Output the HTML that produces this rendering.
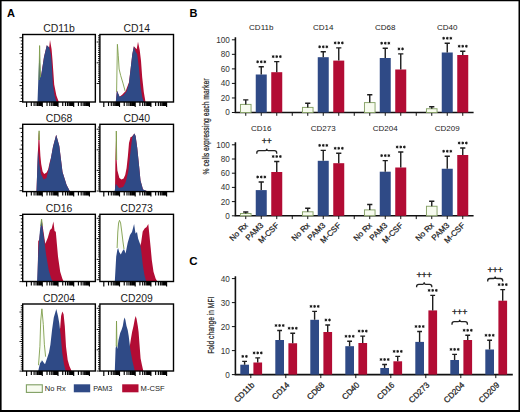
<!DOCTYPE html>
<html><head><meta charset="utf-8"><style>
html,body{margin:0;padding:0;background:#fff;overflow:hidden;width:520px;height:412px;}
svg{display:block;}
text{font-family:"Liberation Sans",sans-serif;}
</style></head><body>
<svg width="520" height="412" viewBox="0 0 520 412">
<rect x="0" y="0" width="520" height="412" fill="#fff"/>
<text x="7.0" y="16.9" font-size="11" text-anchor="start" fill="#000" font-weight="bold" >A</text>
<text x="189.5" y="16.9" font-size="11" text-anchor="start" fill="#000" font-weight="bold" >B</text>
<text x="189.2" y="265.1" font-size="11.5" text-anchor="start" fill="#000" font-weight="bold" >C</text>
<text x="59.025" y="32.1" font-size="10" text-anchor="middle" fill="#1a1a1a" font-weight="normal" textLength="31.8" lengthAdjust="spacingAndGlyphs" >CD11b</text>
<polygon points="38.00,102.00 40.70,79.00 42.00,70.00 44.00,57.00 46.80,45.20 49.20,47.60 50.00,40.00 51.60,49.20 52.50,60.00 53.20,70.00 54.20,84.40 56.40,95.60 58.80,102.00" fill="#b20c34"/>
<polygon points="37.50,102.00 38.30,80.00 39.00,62.00 39.60,54.00 40.10,64.00 40.70,78.00 42.00,70.00 44.00,57.00 46.80,45.20 49.20,47.60 50.80,54.00 51.60,62.00 52.10,70.00 52.90,84.40 54.60,95.60 56.50,102.00" fill="#2f4a86"/>
<polyline points="39.00,80.00 39.60,45.60 40.50,77.00" fill="none" stroke="#7f9e4c" stroke-width="0.9"/>
<rect x="22.7" y="34.5" width="72.65" height="67.50" fill="none" stroke="#000" stroke-width="1.4"/>
<path d="M19.50,37.70H22.70M20.80,40.88H22.70M20.80,44.06H22.70M20.80,47.24H22.70M20.80,50.42H22.70M19.50,53.60H22.70M20.80,56.78H22.70M20.80,59.96H22.70M20.80,63.14H22.70M20.80,66.32H22.70M19.50,69.70H22.70M20.80,72.88H22.70M20.80,76.06H22.70M20.80,79.24H22.70M20.80,82.42H22.70M19.50,85.60H22.70M20.80,88.78H22.70M20.80,91.96H22.70M20.80,95.14H22.70M20.80,98.32H22.70M19.50,101.50H22.70" stroke="#000" stroke-width="0.9" fill="none"/>
<path d="M26.60,102.00V107.00M31.33,102.00V106.00M34.09,102.00V106.00M36.05,102.00V106.00M37.57,102.00V106.00M38.82,102.00V106.00M39.87,102.00V106.00M40.78,102.00V106.00M41.58,102.00V106.00M42.30,102.00V107.00M47.03,102.00V106.00M49.79,102.00V106.00M51.75,102.00V106.00M53.27,102.00V106.00M54.52,102.00V106.00M55.57,102.00V106.00M56.48,102.00V106.00M57.28,102.00V106.00M58.00,102.00V107.00M62.73,102.00V106.00M65.49,102.00V106.00M67.45,102.00V106.00M68.97,102.00V106.00M70.22,102.00V106.00M71.27,102.00V106.00M72.18,102.00V106.00M72.98,102.00V106.00M73.70,102.00V107.00M78.43,102.00V106.00M81.19,102.00V106.00M83.15,102.00V106.00M84.67,102.00V106.00M85.92,102.00V106.00M86.97,102.00V106.00M87.88,102.00V106.00M88.68,102.00V106.00M89.40,102.00V107.00" stroke="#000" stroke-width="1.15" fill="none"/>
<text x="136.7" y="32.1" font-size="10" text-anchor="middle" fill="#1a1a1a" font-weight="normal" textLength="26.6" lengthAdjust="spacingAndGlyphs" >CD14</text>
<polygon points="115.80,102.00 116.90,90.50 119.60,96.70 122.40,94.60 125.70,91.00 129.00,82.20 130.60,69.00 132.30,54.20 133.90,46.20 136.70,49.20 138.00,41.80 139.70,50.00 141.00,60.80 142.20,77.30 143.80,92.10 145.50,102.00" fill="#b20c34"/>
<polygon points="115.80,102.00 116.90,90.50 119.60,96.70 123.20,95.60 126.50,91.50 129.00,83.20 130.60,69.00 132.30,54.20 133.90,46.20 135.60,51.70 137.20,54.20 138.90,67.40 140.50,85.50 142.20,97.00 143.80,102.00" fill="#2f4a86"/>
<polyline points="116.60,92.00 117.40,44.30 118.30,55.80 119.10,69.00 120.70,75.60 123.20,83.90 125.20,91.30" fill="none" stroke="#7f9e4c" stroke-width="0.9"/>
<rect x="99.9" y="34.5" width="73.60" height="67.50" fill="none" stroke="#000" stroke-width="1.4"/>
<path d="M96.70,42.00H99.90M98.00,44.08H99.90M98.00,46.16H99.90M98.00,48.24H99.90M98.00,50.32H99.90M98.00,52.40H99.90M98.00,54.48H99.90M98.00,56.56H99.90M98.00,58.64H99.90M98.00,60.72H99.90M96.70,62.80H99.90M98.00,64.88H99.90M98.00,66.96H99.90M98.00,69.04H99.90M98.00,71.12H99.90M98.00,73.20H99.90M98.00,75.28H99.90M98.00,77.36H99.90M98.00,79.44H99.90M98.00,81.52H99.90M96.70,83.50H99.90M98.00,39.92H99.90M98.00,37.84H99.90M98.00,35.76H99.90" stroke="#000" stroke-width="0.9" fill="none"/>
<path d="M103.80,102.00V107.00M108.53,102.00V106.00M111.29,102.00V106.00M113.25,102.00V106.00M114.77,102.00V106.00M116.02,102.00V106.00M117.07,102.00V106.00M117.98,102.00V106.00M118.78,102.00V106.00M119.50,102.00V107.00M124.23,102.00V106.00M126.99,102.00V106.00M128.95,102.00V106.00M130.47,102.00V106.00M131.72,102.00V106.00M132.77,102.00V106.00M133.68,102.00V106.00M134.48,102.00V106.00M135.20,102.00V107.00M139.93,102.00V106.00M142.69,102.00V106.00M144.65,102.00V106.00M146.17,102.00V106.00M147.42,102.00V106.00M148.47,102.00V106.00M149.38,102.00V106.00M150.18,102.00V106.00M150.90,102.00V107.00M155.63,102.00V106.00M158.39,102.00V106.00M160.35,102.00V106.00M161.87,102.00V106.00M163.12,102.00V106.00M164.17,102.00V106.00M165.08,102.00V106.00M165.88,102.00V106.00M166.60,102.00V107.00" stroke="#000" stroke-width="1.15" fill="none"/>
<text x="59.025" y="121.89999999999999" font-size="10" text-anchor="middle" fill="#1a1a1a" font-weight="normal" textLength="26.6" lengthAdjust="spacingAndGlyphs" >CD68</text>
<polygon points="36.50,191.60 37.60,160.00 38.60,135.00 39.10,130.80 39.60,142.00 40.40,156.00 41.20,164.00 42.60,171.50 44.20,174.00 46.60,172.50 48.20,169.30 49.80,162.00 51.00,158.00 53.00,146.80 56.20,134.80 59.30,146.00 62.50,172.00 66.60,185.00 70.00,191.60" fill="#b20c34"/>
<polygon points="36.50,191.60 37.50,162.00 38.00,150.00 38.60,156.00 39.40,164.00 40.90,174.00 43.70,179.50 46.50,178.00 49.00,167.70 50.60,159.70 53.00,146.80 56.20,134.80 59.30,146.00 62.50,172.00 66.60,185.00 70.00,191.60" fill="#2f4a86"/>
<polyline points="38.60,140.00 39.10,130.80 39.50,140.00" fill="none" stroke="#7f9e4c" stroke-width="0.9"/>
<rect x="22.7" y="124.3" width="72.65" height="67.30" fill="none" stroke="#000" stroke-width="1.4"/>
<path d="M19.50,128.30H22.70M20.80,132.48H22.70M20.80,136.66H22.70M20.80,140.84H22.70M20.80,145.02H22.70M19.50,149.20H22.70M20.80,153.38H22.70M20.80,157.56H22.70M20.80,161.74H22.70M20.80,165.92H22.70M19.50,169.80H22.70M20.80,173.98H22.70M20.80,178.16H22.70M20.80,182.34H22.70M20.80,186.52H22.70M19.50,190.70H22.70" stroke="#000" stroke-width="0.9" fill="none"/>
<path d="M26.60,191.60V196.60M31.33,191.60V195.60M34.09,191.60V195.60M36.05,191.60V195.60M37.57,191.60V195.60M38.82,191.60V195.60M39.87,191.60V195.60M40.78,191.60V195.60M41.58,191.60V195.60M42.30,191.60V196.60M47.03,191.60V195.60M49.79,191.60V195.60M51.75,191.60V195.60M53.27,191.60V195.60M54.52,191.60V195.60M55.57,191.60V195.60M56.48,191.60V195.60M57.28,191.60V195.60M58.00,191.60V196.60M62.73,191.60V195.60M65.49,191.60V195.60M67.45,191.60V195.60M68.97,191.60V195.60M70.22,191.60V195.60M71.27,191.60V195.60M72.18,191.60V195.60M72.98,191.60V195.60M73.70,191.60V196.60M78.43,191.60V195.60M81.19,191.60V195.60M83.15,191.60V195.60M84.67,191.60V195.60M85.92,191.60V195.60M86.97,191.60V195.60M87.88,191.60V195.60M88.68,191.60V195.60M89.40,191.60V196.60" stroke="#000" stroke-width="1.15" fill="none"/>
<text x="136.7" y="121.89999999999999" font-size="10" text-anchor="middle" fill="#1a1a1a" font-weight="normal" textLength="26.6" lengthAdjust="spacingAndGlyphs" >CD40</text>
<polygon points="115.00,191.60 115.40,159.00 116.30,131.00 116.60,159.00 117.40,170.60 119.40,178.00 121.50,179.50 123.60,178.50 125.20,175.00 126.60,168.00 127.90,156.00 129.00,143.00 130.60,137.00 131.80,136.70 134.40,133.40 135.60,135.90 137.20,147.50 138.90,164.00 140.50,180.50 143.00,189.50 148.00,191.60" fill="#b20c34"/>
<polygon points="114.60,191.60 115.80,183.80 119.10,187.90 123.20,187.00 125.70,182.10 128.20,172.20 130.60,150.80 132.30,136.70 134.40,133.40 135.60,135.90 137.20,147.50 138.90,164.00 140.50,180.50 143.00,189.50 148.00,191.60" fill="#2f4a86"/>
<polyline points="116.10,160.00 116.30,131.00 116.70,160.00" fill="none" stroke="#7f9e4c" stroke-width="0.9"/>
<rect x="99.9" y="124.3" width="73.60" height="67.30" fill="none" stroke="#000" stroke-width="1.4"/>
<path d="M96.70,129.20H99.90M98.00,131.26H99.90M98.00,133.32H99.90M98.00,135.38H99.90M98.00,137.44H99.90M98.00,139.50H99.90M98.00,141.56H99.90M98.00,143.62H99.90M98.00,145.68H99.90M98.00,147.74H99.90M96.70,149.80H99.90M98.00,151.86H99.90M98.00,153.92H99.90M98.00,155.98H99.90M98.00,158.04H99.90M98.00,160.10H99.90M98.00,162.16H99.90M98.00,164.22H99.90M98.00,166.28H99.90M98.00,168.34H99.90M96.70,170.40H99.90M98.00,172.46H99.90M98.00,174.52H99.90M98.00,176.58H99.90M98.00,178.64H99.90M98.00,180.70H99.90M98.00,182.76H99.90M98.00,184.82H99.90M98.00,186.88H99.90M98.00,188.94H99.90M96.70,191.00H99.90M98.00,127.14H99.90" stroke="#000" stroke-width="0.9" fill="none"/>
<path d="M103.80,191.60V196.60M108.53,191.60V195.60M111.29,191.60V195.60M113.25,191.60V195.60M114.77,191.60V195.60M116.02,191.60V195.60M117.07,191.60V195.60M117.98,191.60V195.60M118.78,191.60V195.60M119.50,191.60V196.60M124.23,191.60V195.60M126.99,191.60V195.60M128.95,191.60V195.60M130.47,191.60V195.60M131.72,191.60V195.60M132.77,191.60V195.60M133.68,191.60V195.60M134.48,191.60V195.60M135.20,191.60V196.60M139.93,191.60V195.60M142.69,191.60V195.60M144.65,191.60V195.60M146.17,191.60V195.60M147.42,191.60V195.60M148.47,191.60V195.60M149.38,191.60V195.60M150.18,191.60V195.60M150.90,191.60V196.60M155.63,191.60V195.60M158.39,191.60V195.60M160.35,191.60V195.60M161.87,191.60V195.60M163.12,191.60V195.60M164.17,191.60V195.60M165.08,191.60V195.60M165.88,191.60V195.60M166.60,191.60V196.60" stroke="#000" stroke-width="1.15" fill="none"/>
<text x="59.025" y="211.9" font-size="10" text-anchor="middle" fill="#1a1a1a" font-weight="normal" textLength="26.6" lengthAdjust="spacingAndGlyphs" >CD16</text>
<polygon points="37.60,281.50 38.20,241.20 39.30,239.50 41.60,219.10 45.30,243.70 47.80,237.80 50.00,230.10 51.70,228.40 53.40,221.60 54.60,231.00 55.80,231.80 56.80,242.90 58.00,256.50 60.20,271.80 62.30,278.60 63.60,281.50" fill="#b20c34"/>
<polygon points="37.10,281.50 38.50,248.00 39.90,231.00 41.60,219.10 42.70,229.30 44.40,241.20 46.10,254.80 48.70,270.10 51.20,278.60 52.90,281.50" fill="#2f4a86"/>
<polyline points="40.60,226.00 41.60,219.10 42.40,226.00" fill="none" stroke="#7f9e4c" stroke-width="0.9"/>
<rect x="22.7" y="214.3" width="72.65" height="67.20" fill="none" stroke="#000" stroke-width="1.4"/>
<path d="M19.50,215.50H22.70M20.80,218.82H22.70M20.80,222.14H22.70M20.80,225.46H22.70M20.80,228.78H22.70M19.50,232.10H22.70M20.80,235.42H22.70M20.80,238.74H22.70M20.80,242.06H22.70M20.80,245.38H22.70M19.50,248.70H22.70M20.80,252.02H22.70M20.80,255.34H22.70M20.80,258.66H22.70M20.80,261.98H22.70M19.50,265.00H22.70M20.80,268.32H22.70M20.80,271.64H22.70M20.80,274.96H22.70M20.80,278.28H22.70M19.50,281.60H22.70" stroke="#000" stroke-width="0.9" fill="none"/>
<path d="M26.60,281.50V286.50M31.33,281.50V285.50M34.09,281.50V285.50M36.05,281.50V285.50M37.57,281.50V285.50M38.82,281.50V285.50M39.87,281.50V285.50M40.78,281.50V285.50M41.58,281.50V285.50M42.30,281.50V286.50M47.03,281.50V285.50M49.79,281.50V285.50M51.75,281.50V285.50M53.27,281.50V285.50M54.52,281.50V285.50M55.57,281.50V285.50M56.48,281.50V285.50M57.28,281.50V285.50M58.00,281.50V286.50M62.73,281.50V285.50M65.49,281.50V285.50M67.45,281.50V285.50M68.97,281.50V285.50M70.22,281.50V285.50M71.27,281.50V285.50M72.18,281.50V285.50M72.98,281.50V285.50M73.70,281.50V286.50M78.43,281.50V285.50M81.19,281.50V285.50M83.15,281.50V285.50M84.67,281.50V285.50M85.92,281.50V285.50M86.97,281.50V285.50M87.88,281.50V285.50M88.68,281.50V285.50M89.40,281.50V286.50" stroke="#000" stroke-width="1.15" fill="none"/>
<text x="136.7" y="211.9" font-size="10" text-anchor="middle" fill="#1a1a1a" font-weight="normal" textLength="32.2" lengthAdjust="spacingAndGlyphs" >CD273</text>
<polygon points="128.00,281.50 141.10,242.70 142.70,231.50 144.80,228.30 146.40,227.20 148.30,224.00 149.10,232.00 150.70,248.00 151.80,260.00 153.50,271.80 155.60,278.60 157.30,281.50" fill="#b20c34"/>
<polygon points="114.80,281.50 116.20,256.50 117.30,250.00 118.10,248.00 119.20,252.00 120.80,254.40 122.50,251.00 124.00,249.00 125.60,253.40 127.70,242.70 129.90,235.20 130.60,234.10 132.00,232.00 134.10,224.00 135.50,233.60 137.00,232.00 138.10,238.40 140.00,243.70 141.30,251.20 142.80,265.00 144.50,275.20 146.20,281.50" fill="#2f4a86"/>
<polyline points="117.10,248.00 117.80,232.00 118.60,223.00 119.50,220.30 120.60,223.00 121.80,232.00 123.00,242.00 124.00,249.00" fill="#f7fbef" fill-opacity="0.6" stroke="#7f9e4c" stroke-width="0.9"/>
<rect x="99.9" y="214.3" width="73.60" height="67.20" fill="none" stroke="#000" stroke-width="1.4"/>
<path d="M96.70,218.30H99.90M98.00,220.33H99.90M98.00,222.36H99.90M98.00,224.39H99.90M98.00,226.42H99.90M98.00,228.45H99.90M98.00,230.48H99.90M98.00,232.51H99.90M98.00,234.54H99.90M98.00,236.57H99.90M96.70,238.60H99.90M98.00,240.63H99.90M98.00,242.66H99.90M98.00,244.69H99.90M98.00,246.72H99.90M98.00,248.75H99.90M98.00,250.78H99.90M98.00,252.81H99.90M98.00,254.84H99.90M98.00,256.87H99.90M96.70,259.40H99.90M98.00,261.43H99.90M98.00,263.46H99.90M98.00,265.49H99.90M98.00,267.52H99.90M98.00,269.55H99.90M98.00,271.58H99.90M98.00,273.61H99.90M98.00,275.64H99.90M98.00,277.67H99.90M96.70,279.70H99.90M98.00,216.27H99.90" stroke="#000" stroke-width="0.9" fill="none"/>
<path d="M103.80,281.50V286.50M108.53,281.50V285.50M111.29,281.50V285.50M113.25,281.50V285.50M114.77,281.50V285.50M116.02,281.50V285.50M117.07,281.50V285.50M117.98,281.50V285.50M118.78,281.50V285.50M119.50,281.50V286.50M124.23,281.50V285.50M126.99,281.50V285.50M128.95,281.50V285.50M130.47,281.50V285.50M131.72,281.50V285.50M132.77,281.50V285.50M133.68,281.50V285.50M134.48,281.50V285.50M135.20,281.50V286.50M139.93,281.50V285.50M142.69,281.50V285.50M144.65,281.50V285.50M146.17,281.50V285.50M147.42,281.50V285.50M148.47,281.50V285.50M149.38,281.50V285.50M150.18,281.50V285.50M150.90,281.50V286.50M155.63,281.50V285.50M158.39,281.50V285.50M160.35,281.50V285.50M161.87,281.50V285.50M163.12,281.50V285.50M164.17,281.50V285.50M165.08,281.50V285.50M165.88,281.50V285.50M166.60,281.50V286.50" stroke="#000" stroke-width="1.15" fill="none"/>
<text x="59.025" y="301.6" font-size="10" text-anchor="middle" fill="#1a1a1a" font-weight="normal" textLength="32.2" lengthAdjust="spacingAndGlyphs" >CD204</text>
<polygon points="52.00,371.00 60.20,327.80 61.10,315.90 62.30,311.60 63.60,314.20 64.80,326.10 66.00,346.50 67.70,360.10 69.40,366.00 71.60,371.00" fill="#b20c34"/>
<polygon points="38.20,371.00 40.20,362.60 41.90,360.10 43.60,362.60 45.00,364.30 47.00,358.40 49.00,352.40 50.40,344.80 52.10,329.50 53.80,317.60 56.30,309.10 58.00,315.90 59.20,322.70 60.60,334.60 62.30,353.30 64.00,364.30 65.70,371.00" fill="#2f4a86"/>
<polyline points="38.50,365.20 39.90,346.50 40.70,321.00 41.90,308.80 43.30,324.40 44.40,344.80 45.60,356.70" fill="#f7fbef" fill-opacity="0.6" stroke="#7f9e4c" stroke-width="0.9"/>
<rect x="22.7" y="304.0" width="72.65" height="67.00" fill="none" stroke="#000" stroke-width="1.4"/>
<path d="M19.50,312.00H22.70M20.80,314.11H22.70M20.80,316.23H22.70M20.80,318.34H22.70M20.80,320.46H22.70M20.80,322.57H22.70M20.80,324.69H22.70M19.50,326.80H22.70M20.80,328.91H22.70M20.80,331.03H22.70M20.80,333.14H22.70M20.80,335.26H22.70M20.80,337.37H22.70M20.80,339.49H22.70M19.50,341.50H22.70M20.80,343.61H22.70M20.80,345.73H22.70M20.80,347.84H22.70M20.80,349.96H22.70M20.80,352.07H22.70M20.80,354.19H22.70M19.50,356.30H22.70M20.80,358.41H22.70M20.80,360.53H22.70M20.80,362.64H22.70M20.80,364.76H22.70M20.80,366.87H22.70M20.80,368.99H22.70M19.50,371.10H22.70M20.80,309.89H22.70M20.80,307.77H22.70M20.80,305.66H22.70" stroke="#000" stroke-width="0.9" fill="none"/>
<path d="M26.60,371.00V376.00M31.33,371.00V375.00M34.09,371.00V375.00M36.05,371.00V375.00M37.57,371.00V375.00M38.82,371.00V375.00M39.87,371.00V375.00M40.78,371.00V375.00M41.58,371.00V375.00M42.30,371.00V376.00M47.03,371.00V375.00M49.79,371.00V375.00M51.75,371.00V375.00M53.27,371.00V375.00M54.52,371.00V375.00M55.57,371.00V375.00M56.48,371.00V375.00M57.28,371.00V375.00M58.00,371.00V376.00M62.73,371.00V375.00M65.49,371.00V375.00M67.45,371.00V375.00M68.97,371.00V375.00M70.22,371.00V375.00M71.27,371.00V375.00M72.18,371.00V375.00M72.98,371.00V375.00M73.70,371.00V376.00M78.43,371.00V375.00M81.19,371.00V375.00M83.15,371.00V375.00M84.67,371.00V375.00M85.92,371.00V375.00M86.97,371.00V375.00M87.88,371.00V375.00M88.68,371.00V375.00M89.40,371.00V376.00" stroke="#000" stroke-width="1.15" fill="none"/>
<text x="136.7" y="301.6" font-size="10" text-anchor="middle" fill="#1a1a1a" font-weight="normal" textLength="32.2" lengthAdjust="spacingAndGlyphs" >CD209</text>
<polygon points="126.00,371.00 130.90,339.00 132.10,332.00 133.50,326.00 134.80,319.00 135.70,316.00 136.60,319.00 137.80,326.00 138.60,332.00 139.40,343.00 140.60,358.40 142.00,365.20 143.30,371.00" fill="#b20c34"/>
<polygon points="114.80,371.00 115.60,348.20 116.50,344.80 117.30,349.00 118.50,340.00 120.20,333.00 121.50,330.00 122.80,326.00 123.80,320.00 124.60,317.50 125.40,320.00 126.50,326.00 127.70,330.00 128.70,336.00 130.40,349.90 132.60,361.80 134.80,371.00" fill="#2f4a86"/>
<polyline points="116.20,346.50 116.50,321.00 117.00,346.50" fill="none" stroke="#7f9e4c" stroke-width="0.9"/>
<rect x="99.9" y="304.0" width="73.60" height="67.00" fill="none" stroke="#000" stroke-width="1.4"/>
<path d="M96.70,308.30H99.90M98.00,310.42H99.90M98.00,312.54H99.90M98.00,314.66H99.90M98.00,316.78H99.90M98.00,318.90H99.90M98.00,321.02H99.90M98.00,323.14H99.90M98.00,325.26H99.90M98.00,327.38H99.90M96.70,329.50H99.90M98.00,331.62H99.90M98.00,333.74H99.90M98.00,335.86H99.90M98.00,337.98H99.90M98.00,340.10H99.90M98.00,342.22H99.90M98.00,344.34H99.90M98.00,346.46H99.90M98.00,348.58H99.90M96.70,349.80H99.90M98.00,351.92H99.90M98.00,354.04H99.90M98.00,356.16H99.90M98.00,358.28H99.90M98.00,360.40H99.90M98.00,362.52H99.90M98.00,364.64H99.90M98.00,366.76H99.90M98.00,368.88H99.90M96.70,371.00H99.90M98.00,306.18H99.90" stroke="#000" stroke-width="0.9" fill="none"/>
<path d="M103.80,371.00V376.00M108.53,371.00V375.00M111.29,371.00V375.00M113.25,371.00V375.00M114.77,371.00V375.00M116.02,371.00V375.00M117.07,371.00V375.00M117.98,371.00V375.00M118.78,371.00V375.00M119.50,371.00V376.00M124.23,371.00V375.00M126.99,371.00V375.00M128.95,371.00V375.00M130.47,371.00V375.00M131.72,371.00V375.00M132.77,371.00V375.00M133.68,371.00V375.00M134.48,371.00V375.00M135.20,371.00V376.00M139.93,371.00V375.00M142.69,371.00V375.00M144.65,371.00V375.00M146.17,371.00V375.00M147.42,371.00V375.00M148.47,371.00V375.00M149.38,371.00V375.00M150.18,371.00V375.00M150.90,371.00V376.00M155.63,371.00V375.00M158.39,371.00V375.00M160.35,371.00V375.00M161.87,371.00V375.00M163.12,371.00V375.00M164.17,371.00V375.00M165.08,371.00V375.00M165.88,371.00V375.00M166.60,371.00V376.00" stroke="#000" stroke-width="1.15" fill="none"/>
<rect x="26.4" y="384.8" width="15.9" height="7.6" fill="#f7fbef" stroke="#7f9f62" stroke-width="1.1"/>
<text x="44.8" y="390.9" font-size="7.4" text-anchor="start" fill="#222" font-weight="normal" textLength="20.9" lengthAdjust="spacingAndGlyphs" >No Rx</text>
<rect x="73.8" y="384.3" width="16.4" height="8" fill="#2f4a86"/>
<text x="93.2" y="390.9" font-size="7.4" text-anchor="start" fill="#222" font-weight="normal" textLength="19.1" lengthAdjust="spacingAndGlyphs" >PAM3</text>
<rect x="122.2" y="384.3" width="16.3" height="8" fill="#b20c34"/>
<text x="140.6" y="390.9" font-size="7.4" text-anchor="start" fill="#222" font-weight="normal" textLength="24" lengthAdjust="spacingAndGlyphs" >M-CSF</text>
<path d="M235.4,37.30V112.50H473.6" stroke="#111" stroke-width="1.6" fill="none"/>
<text x="229.8" y="115.4" font-size="8.2" text-anchor="end" fill="#333" font-weight="normal" >0</text>
<text x="229.8" y="100.86000000000001" font-size="8.2" text-anchor="end" fill="#333" font-weight="normal" >20</text>
<text x="229.8" y="86.32000000000001" font-size="8.2" text-anchor="end" fill="#333" font-weight="normal" >40</text>
<text x="229.8" y="71.78" font-size="8.2" text-anchor="end" fill="#333" font-weight="normal" >60</text>
<text x="229.8" y="57.24" font-size="8.2" text-anchor="end" fill="#333" font-weight="normal" >80</text>
<text x="229.8" y="42.699999999999996" font-size="8.2" text-anchor="end" fill="#333" font-weight="normal" >100</text>
<path d="M231.90,112.50H235.4M231.90,97.96H235.4M231.90,83.42H235.4M231.90,68.88H235.4M231.90,54.34H235.4M231.90,39.80H235.4M245.75,112.50V115.80M261.25,112.50V115.80M276.75,112.50V115.80M292.25,112.50V115.80M307.75,112.50V115.80M323.25,112.50V115.80M338.75,112.50V115.80M354.25,112.50V115.80M369.75,112.50V115.80M385.25,112.50V115.80M400.75,112.50V115.80M416.25,112.50V115.80M431.75,112.50V115.80M447.25,112.50V115.80M462.75,112.50V115.80" stroke="#111" stroke-width="1" fill="none"/>
<text x="261.25" y="30.1" font-size="8" text-anchor="middle" fill="#222" font-weight="normal" >CD11b</text>
<rect x="240.45" y="104.40" width="10.6" height="8.10" fill="#f7fbef" stroke="#86a266" stroke-width="0.95"/>
<path d="M245.75,104.40V99.90M243.15,99.90H248.35" stroke="#1e1e1e" stroke-width="1.4" fill="none"/>
<rect x="255.75" y="74.50" width="11" height="38.00" fill="#2f4a86"/>
<path d="M261.25,74.50V66.80M258.65,66.80H263.85" stroke="#1e1e1e" stroke-width="1.4" fill="none"/>
<path d="M257.65,60.35L257.65,63.25M256.39,61.07L258.91,62.52M258.91,61.07L256.39,62.52M257.65,61.80m-0.6,0a0.6,0.6 0 1,0 1.2,0a0.6,0.6 0 1,0 -1.2,0M261.25,60.35L261.25,63.25M259.99,61.07L262.51,62.52M262.51,61.07L259.99,62.52M261.25,61.80m-0.6,0a0.6,0.6 0 1,0 1.2,0a0.6,0.6 0 1,0 -1.2,0M264.85,60.35L264.85,63.25M263.59,61.07L266.11,62.52M266.11,61.07L263.59,62.52M264.85,61.80m-0.6,0a0.6,0.6 0 1,0 1.2,0a0.6,0.6 0 1,0 -1.2,0" stroke="#1a1a1a" stroke-width="0.8" fill="#1a1a1a"/>
<rect x="271.25" y="72.20" width="11" height="40.30" fill="#b20c34"/>
<path d="M276.75,72.20V61.60M274.15,61.60H279.35" stroke="#1e1e1e" stroke-width="1.4" fill="none"/>
<path d="M273.15,55.15L273.15,58.05M271.89,55.88L274.41,57.33M274.41,55.88L271.89,57.33M273.15,56.60m-0.6,0a0.6,0.6 0 1,0 1.2,0a0.6,0.6 0 1,0 -1.2,0M276.75,55.15L276.75,58.05M275.49,55.88L278.01,57.33M278.01,55.88L275.49,57.33M276.75,56.60m-0.6,0a0.6,0.6 0 1,0 1.2,0a0.6,0.6 0 1,0 -1.2,0M280.35,55.15L280.35,58.05M279.09,55.88L281.61,57.33M281.61,55.88L279.09,57.33M280.35,56.60m-0.6,0a0.6,0.6 0 1,0 1.2,0a0.6,0.6 0 1,0 -1.2,0" stroke="#1a1a1a" stroke-width="0.8" fill="#1a1a1a"/>
<text x="323.25" y="30.1" font-size="8" text-anchor="middle" fill="#222" font-weight="normal" >CD14</text>
<rect x="302.45" y="107.40" width="10.6" height="5.10" fill="#f7fbef" stroke="#86a266" stroke-width="0.95"/>
<path d="M307.75,107.40V103.30M305.15,103.30H310.35" stroke="#1e1e1e" stroke-width="1.4" fill="none"/>
<rect x="317.75" y="57.20" width="11" height="55.30" fill="#2f4a86"/>
<path d="M323.25,57.20V51.80M320.65,51.80H325.85" stroke="#1e1e1e" stroke-width="1.4" fill="none"/>
<path d="M319.65,45.35L319.65,48.25M318.39,46.07L320.91,47.52M320.91,46.07L318.39,47.52M319.65,46.80m-0.6,0a0.6,0.6 0 1,0 1.2,0a0.6,0.6 0 1,0 -1.2,0M323.25,45.35L323.25,48.25M321.99,46.07L324.51,47.52M324.51,46.07L321.99,47.52M323.25,46.80m-0.6,0a0.6,0.6 0 1,0 1.2,0a0.6,0.6 0 1,0 -1.2,0M326.85,45.35L326.85,48.25M325.59,46.07L328.11,47.52M328.11,46.07L325.59,47.52M326.85,46.80m-0.6,0a0.6,0.6 0 1,0 1.2,0a0.6,0.6 0 1,0 -1.2,0" stroke="#1a1a1a" stroke-width="0.8" fill="#1a1a1a"/>
<rect x="333.25" y="60.60" width="11" height="51.90" fill="#b20c34"/>
<path d="M338.75,60.60V47.90M336.15,47.90H341.35" stroke="#1e1e1e" stroke-width="1.4" fill="none"/>
<path d="M335.15,41.45L335.15,44.35M333.89,42.17L336.41,43.62M336.41,42.17L333.89,43.62M335.15,42.90m-0.6,0a0.6,0.6 0 1,0 1.2,0a0.6,0.6 0 1,0 -1.2,0M338.75,41.45L338.75,44.35M337.49,42.17L340.01,43.62M340.01,42.17L337.49,43.62M338.75,42.90m-0.6,0a0.6,0.6 0 1,0 1.2,0a0.6,0.6 0 1,0 -1.2,0M342.35,41.45L342.35,44.35M341.09,42.17L343.61,43.62M343.61,42.17L341.09,43.62M342.35,42.90m-0.6,0a0.6,0.6 0 1,0 1.2,0a0.6,0.6 0 1,0 -1.2,0" stroke="#1a1a1a" stroke-width="0.8" fill="#1a1a1a"/>
<text x="385.25" y="30.1" font-size="8" text-anchor="middle" fill="#222" font-weight="normal" >CD68</text>
<rect x="364.45" y="102.60" width="10.6" height="9.90" fill="#f7fbef" stroke="#86a266" stroke-width="0.95"/>
<path d="M369.75,102.60V94.80M367.15,94.80H372.35" stroke="#1e1e1e" stroke-width="1.4" fill="none"/>
<rect x="379.75" y="58.00" width="11" height="54.50" fill="#2f4a86"/>
<path d="M385.25,58.00V48.20M382.65,48.20H387.85" stroke="#1e1e1e" stroke-width="1.4" fill="none"/>
<path d="M381.65,41.75L381.65,44.65M380.39,42.48L382.91,43.93M382.91,42.48L380.39,43.93M381.65,43.20m-0.6,0a0.6,0.6 0 1,0 1.2,0a0.6,0.6 0 1,0 -1.2,0M385.25,41.75L385.25,44.65M383.99,42.48L386.51,43.93M386.51,42.48L383.99,43.93M385.25,43.20m-0.6,0a0.6,0.6 0 1,0 1.2,0a0.6,0.6 0 1,0 -1.2,0M388.85,41.75L388.85,44.65M387.59,42.48L390.11,43.93M390.11,42.48L387.59,43.93M388.85,43.20m-0.6,0a0.6,0.6 0 1,0 1.2,0a0.6,0.6 0 1,0 -1.2,0" stroke="#1a1a1a" stroke-width="0.8" fill="#1a1a1a"/>
<rect x="395.25" y="69.50" width="11" height="43.00" fill="#b20c34"/>
<path d="M400.75,69.50V53.90M398.15,53.90H403.35" stroke="#1e1e1e" stroke-width="1.4" fill="none"/>
<path d="M398.95,47.45L398.95,50.35M397.69,48.17L400.21,49.62M400.21,48.17L397.69,49.62M398.95,48.90m-0.6,0a0.6,0.6 0 1,0 1.2,0a0.6,0.6 0 1,0 -1.2,0M402.55,47.45L402.55,50.35M401.29,48.17L403.81,49.62M403.81,48.17L401.29,49.62M402.55,48.90m-0.6,0a0.6,0.6 0 1,0 1.2,0a0.6,0.6 0 1,0 -1.2,0" stroke="#1a1a1a" stroke-width="0.8" fill="#1a1a1a"/>
<text x="447.25" y="30.1" font-size="8" text-anchor="middle" fill="#222" font-weight="normal" >CD40</text>
<rect x="426.45" y="108.75" width="10.6" height="3.75" fill="#f7fbef" stroke="#86a266" stroke-width="0.95"/>
<path d="M431.75,108.75V106.75M429.15,106.75H434.35" stroke="#1e1e1e" stroke-width="1.4" fill="none"/>
<rect x="441.75" y="52.50" width="11" height="60.00" fill="#2f4a86"/>
<path d="M447.25,52.50V43.25M444.65,43.25H449.85" stroke="#1e1e1e" stroke-width="1.4" fill="none"/>
<path d="M443.65,36.80L443.65,39.70M442.39,37.52L444.91,38.98M444.91,37.52L442.39,38.98M443.65,38.25m-0.6,0a0.6,0.6 0 1,0 1.2,0a0.6,0.6 0 1,0 -1.2,0M447.25,36.80L447.25,39.70M445.99,37.52L448.51,38.98M448.51,37.52L445.99,38.98M447.25,38.25m-0.6,0a0.6,0.6 0 1,0 1.2,0a0.6,0.6 0 1,0 -1.2,0M450.85,36.80L450.85,39.70M449.59,37.52L452.11,38.98M452.11,37.52L449.59,38.98M450.85,38.25m-0.6,0a0.6,0.6 0 1,0 1.2,0a0.6,0.6 0 1,0 -1.2,0" stroke="#1a1a1a" stroke-width="0.8" fill="#1a1a1a"/>
<rect x="457.25" y="55.00" width="11" height="57.50" fill="#b20c34"/>
<path d="M462.75,55.00V51.25M460.15,51.25H465.35" stroke="#1e1e1e" stroke-width="1.4" fill="none"/>
<path d="M459.15,44.80L459.15,47.70M457.89,45.52L460.41,46.98M460.41,45.52L457.89,46.98M459.15,46.25m-0.6,0a0.6,0.6 0 1,0 1.2,0a0.6,0.6 0 1,0 -1.2,0M462.75,44.80L462.75,47.70M461.49,45.52L464.01,46.98M464.01,45.52L461.49,46.98M462.75,46.25m-0.6,0a0.6,0.6 0 1,0 1.2,0a0.6,0.6 0 1,0 -1.2,0M466.35,44.80L466.35,47.70M465.09,45.52L467.61,46.98M467.61,45.52L465.09,46.98M466.35,46.25m-0.6,0a0.6,0.6 0 1,0 1.2,0a0.6,0.6 0 1,0 -1.2,0" stroke="#1a1a1a" stroke-width="0.8" fill="#1a1a1a"/>
<path d="M235.4,142.30V215.80H473.6" stroke="#111" stroke-width="1.6" fill="none"/>
<text x="229.8" y="218.70000000000002" font-size="8.2" text-anchor="end" fill="#333" font-weight="normal" >0</text>
<text x="229.8" y="204.50000000000003" font-size="8.2" text-anchor="end" fill="#333" font-weight="normal" >20</text>
<text x="229.8" y="190.3" font-size="8.2" text-anchor="end" fill="#333" font-weight="normal" >40</text>
<text x="229.8" y="176.10000000000002" font-size="8.2" text-anchor="end" fill="#333" font-weight="normal" >60</text>
<text x="229.8" y="161.9" font-size="8.2" text-anchor="end" fill="#333" font-weight="normal" >80</text>
<text x="229.8" y="147.70000000000002" font-size="8.2" text-anchor="end" fill="#333" font-weight="normal" >100</text>
<path d="M231.90,215.80H235.4M231.90,201.60H235.4M231.90,187.40H235.4M231.90,173.20H235.4M231.90,159.00H235.4M231.90,144.80H235.4M245.75,215.80V219.10M261.25,215.80V219.10M276.75,215.80V219.10M292.25,215.80V219.10M307.75,215.80V219.10M323.25,215.80V219.10M338.75,215.80V219.10M354.25,215.80V219.10M369.75,215.80V219.10M385.25,215.80V219.10M400.75,215.80V219.10M416.25,215.80V219.10M431.75,215.80V219.10M447.25,215.80V219.10M462.75,215.80V219.10" stroke="#111" stroke-width="1" fill="none"/>
<text x="261.25" y="130.9" font-size="8" text-anchor="middle" fill="#222" font-weight="normal" >CD16</text>
<rect x="240.45" y="213.50" width="10.6" height="2.30" fill="#f7fbef" stroke="#86a266" stroke-width="0.95"/>
<path d="M245.75,213.50V212.00M243.15,212.00H248.35" stroke="#1e1e1e" stroke-width="1.4" fill="none"/>
<rect x="255.75" y="190.10" width="11" height="25.70" fill="#2f4a86"/>
<path d="M261.25,190.10V182.00M258.65,182.00H263.85" stroke="#1e1e1e" stroke-width="1.4" fill="none"/>
<path d="M257.65,175.55L257.65,178.45M256.39,176.28L258.91,177.72M258.91,176.28L256.39,177.72M257.65,177.00m-0.6,0a0.6,0.6 0 1,0 1.2,0a0.6,0.6 0 1,0 -1.2,0M261.25,175.55L261.25,178.45M259.99,176.28L262.51,177.72M262.51,176.28L259.99,177.72M261.25,177.00m-0.6,0a0.6,0.6 0 1,0 1.2,0a0.6,0.6 0 1,0 -1.2,0M264.85,175.55L264.85,178.45M263.59,176.28L266.11,177.72M266.11,176.28L263.59,177.72M264.85,177.00m-0.6,0a0.6,0.6 0 1,0 1.2,0a0.6,0.6 0 1,0 -1.2,0" stroke="#1a1a1a" stroke-width="0.8" fill="#1a1a1a"/>
<rect x="271.25" y="172.00" width="11" height="43.80" fill="#b20c34"/>
<path d="M276.75,172.00V161.50M274.15,161.50H279.35" stroke="#1e1e1e" stroke-width="1.4" fill="none"/>
<path d="M273.15,155.05L273.15,157.95M271.89,155.78L274.41,157.22M274.41,155.78L271.89,157.22M273.15,156.50m-0.6,0a0.6,0.6 0 1,0 1.2,0a0.6,0.6 0 1,0 -1.2,0M276.75,155.05L276.75,157.95M275.49,155.78L278.01,157.22M278.01,155.78L275.49,157.22M276.75,156.50m-0.6,0a0.6,0.6 0 1,0 1.2,0a0.6,0.6 0 1,0 -1.2,0M280.35,155.05L280.35,157.95M279.09,155.78L281.61,157.22M281.61,155.78L279.09,157.22M280.35,156.50m-0.6,0a0.6,0.6 0 1,0 1.2,0a0.6,0.6 0 1,0 -1.2,0" stroke="#1a1a1a" stroke-width="0.8" fill="#1a1a1a"/>
<text x="323.25" y="130.9" font-size="8" text-anchor="middle" fill="#222" font-weight="normal" >CD273</text>
<rect x="302.45" y="211.80" width="10.6" height="4.00" fill="#f7fbef" stroke="#86a266" stroke-width="0.95"/>
<path d="M307.75,211.80V208.20M305.15,208.20H310.35" stroke="#1e1e1e" stroke-width="1.4" fill="none"/>
<rect x="317.75" y="160.80" width="11" height="55.00" fill="#2f4a86"/>
<path d="M323.25,160.80V150.40M320.65,150.40H325.85" stroke="#1e1e1e" stroke-width="1.4" fill="none"/>
<path d="M319.65,143.95L319.65,146.85M318.39,144.68L320.91,146.12M320.91,144.68L318.39,146.12M319.65,145.40m-0.6,0a0.6,0.6 0 1,0 1.2,0a0.6,0.6 0 1,0 -1.2,0M323.25,143.95L323.25,146.85M321.99,144.68L324.51,146.12M324.51,144.68L321.99,146.12M323.25,145.40m-0.6,0a0.6,0.6 0 1,0 1.2,0a0.6,0.6 0 1,0 -1.2,0M326.85,143.95L326.85,146.85M325.59,144.68L328.11,146.12M328.11,144.68L325.59,146.12M326.85,145.40m-0.6,0a0.6,0.6 0 1,0 1.2,0a0.6,0.6 0 1,0 -1.2,0" stroke="#1a1a1a" stroke-width="0.8" fill="#1a1a1a"/>
<rect x="333.25" y="163.20" width="11" height="52.60" fill="#b20c34"/>
<path d="M338.75,163.20V153.30M336.15,153.30H341.35" stroke="#1e1e1e" stroke-width="1.4" fill="none"/>
<path d="M335.15,146.85L335.15,149.75M333.89,147.58L336.41,149.03M336.41,147.58L333.89,149.03M335.15,148.30m-0.6,0a0.6,0.6 0 1,0 1.2,0a0.6,0.6 0 1,0 -1.2,0M338.75,146.85L338.75,149.75M337.49,147.58L340.01,149.03M340.01,147.58L337.49,149.03M338.75,148.30m-0.6,0a0.6,0.6 0 1,0 1.2,0a0.6,0.6 0 1,0 -1.2,0M342.35,146.85L342.35,149.75M341.09,147.58L343.61,149.03M343.61,147.58L341.09,149.03M342.35,148.30m-0.6,0a0.6,0.6 0 1,0 1.2,0a0.6,0.6 0 1,0 -1.2,0" stroke="#1a1a1a" stroke-width="0.8" fill="#1a1a1a"/>
<text x="385.25" y="130.9" font-size="8" text-anchor="middle" fill="#222" font-weight="normal" >CD204</text>
<rect x="364.45" y="209.90" width="10.6" height="5.90" fill="#f7fbef" stroke="#86a266" stroke-width="0.95"/>
<path d="M369.75,209.90V204.50M367.15,204.50H372.35" stroke="#1e1e1e" stroke-width="1.4" fill="none"/>
<rect x="379.75" y="171.70" width="11" height="44.10" fill="#2f4a86"/>
<path d="M385.25,171.70V160.60M382.65,160.60H387.85" stroke="#1e1e1e" stroke-width="1.4" fill="none"/>
<path d="M381.65,154.15L381.65,157.05M380.39,154.88L382.91,156.32M382.91,154.88L380.39,156.32M381.65,155.60m-0.6,0a0.6,0.6 0 1,0 1.2,0a0.6,0.6 0 1,0 -1.2,0M385.25,154.15L385.25,157.05M383.99,154.88L386.51,156.32M386.51,154.88L383.99,156.32M385.25,155.60m-0.6,0a0.6,0.6 0 1,0 1.2,0a0.6,0.6 0 1,0 -1.2,0M388.85,154.15L388.85,157.05M387.59,154.88L390.11,156.32M390.11,154.88L387.59,156.32M388.85,155.60m-0.6,0a0.6,0.6 0 1,0 1.2,0a0.6,0.6 0 1,0 -1.2,0" stroke="#1a1a1a" stroke-width="0.8" fill="#1a1a1a"/>
<rect x="395.25" y="167.50" width="11" height="48.30" fill="#b20c34"/>
<path d="M400.75,167.50V152.00M398.15,152.00H403.35" stroke="#1e1e1e" stroke-width="1.4" fill="none"/>
<path d="M397.15,145.55L397.15,148.45M395.89,146.28L398.41,147.72M398.41,146.28L395.89,147.72M397.15,147.00m-0.6,0a0.6,0.6 0 1,0 1.2,0a0.6,0.6 0 1,0 -1.2,0M400.75,145.55L400.75,148.45M399.49,146.28L402.01,147.72M402.01,146.28L399.49,147.72M400.75,147.00m-0.6,0a0.6,0.6 0 1,0 1.2,0a0.6,0.6 0 1,0 -1.2,0M404.35,145.55L404.35,148.45M403.09,146.28L405.61,147.72M405.61,146.28L403.09,147.72M404.35,147.00m-0.6,0a0.6,0.6 0 1,0 1.2,0a0.6,0.6 0 1,0 -1.2,0" stroke="#1a1a1a" stroke-width="0.8" fill="#1a1a1a"/>
<text x="447.25" y="130.9" font-size="8" text-anchor="middle" fill="#222" font-weight="normal" >CD209</text>
<rect x="426.45" y="206.25" width="10.6" height="9.55" fill="#f7fbef" stroke="#86a266" stroke-width="0.95"/>
<path d="M431.75,206.25V201.25M429.15,201.25H434.35" stroke="#1e1e1e" stroke-width="1.4" fill="none"/>
<rect x="441.75" y="168.75" width="11" height="47.05" fill="#2f4a86"/>
<path d="M447.25,168.75V156.25M444.65,156.25H449.85" stroke="#1e1e1e" stroke-width="1.4" fill="none"/>
<path d="M443.65,149.80L443.65,152.70M442.39,150.53L444.91,151.97M444.91,150.53L442.39,151.97M443.65,151.25m-0.6,0a0.6,0.6 0 1,0 1.2,0a0.6,0.6 0 1,0 -1.2,0M447.25,149.80L447.25,152.70M445.99,150.53L448.51,151.97M448.51,150.53L445.99,151.97M447.25,151.25m-0.6,0a0.6,0.6 0 1,0 1.2,0a0.6,0.6 0 1,0 -1.2,0M450.85,149.80L450.85,152.70M449.59,150.53L452.11,151.97M452.11,150.53L449.59,151.97M450.85,151.25m-0.6,0a0.6,0.6 0 1,0 1.2,0a0.6,0.6 0 1,0 -1.2,0" stroke="#1a1a1a" stroke-width="0.8" fill="#1a1a1a"/>
<rect x="457.25" y="155.00" width="11" height="60.80" fill="#b20c34"/>
<path d="M462.75,155.00V148.00M460.15,148.00H465.35" stroke="#1e1e1e" stroke-width="1.4" fill="none"/>
<path d="M459.15,141.55L459.15,144.45M457.89,142.28L460.41,143.72M460.41,142.28L457.89,143.72M459.15,143.00m-0.6,0a0.6,0.6 0 1,0 1.2,0a0.6,0.6 0 1,0 -1.2,0M462.75,141.55L462.75,144.45M461.49,142.28L464.01,143.72M464.01,142.28L461.49,143.72M462.75,143.00m-0.6,0a0.6,0.6 0 1,0 1.2,0a0.6,0.6 0 1,0 -1.2,0M466.35,141.55L466.35,144.45M465.09,142.28L467.61,143.72M467.61,142.28L465.09,143.72M466.35,143.00m-0.6,0a0.6,0.6 0 1,0 1.2,0a0.6,0.6 0 1,0 -1.2,0" stroke="#1a1a1a" stroke-width="0.8" fill="#1a1a1a"/>
<path d="M256.80,153.70V152.90Q256.80,150.70 259.00,150.70H265.25Q266.75,150.70 266.75,148.70Q266.75,150.70 268.25,150.70H274.50Q276.70,150.70 276.70,152.90V153.70" stroke="#222" stroke-width="1.3" fill="none"/>
<text x="266.8" y="143.6" font-size="9.5" text-anchor="middle" fill="#111" font-weight="normal" textLength="10" lengthAdjust="spacingAndGlyphs" stroke="#111" stroke-width="0.3">++</text>
<text transform="translate(248.35,225.90) rotate(-45)" font-size="8" text-anchor="end" fill="#222" stroke="#222" stroke-width="0.25">No Rx</text>
<text transform="translate(263.85,225.90) rotate(-45)" font-size="8" text-anchor="end" fill="#222" stroke="#222" stroke-width="0.25">PAM3</text>
<text transform="translate(279.35,225.90) rotate(-45)" font-size="8" text-anchor="end" fill="#222" stroke="#222" stroke-width="0.25">M-CSF</text>
<text transform="translate(310.35,225.90) rotate(-45)" font-size="8" text-anchor="end" fill="#222" stroke="#222" stroke-width="0.25">No Rx</text>
<text transform="translate(325.85,225.90) rotate(-45)" font-size="8" text-anchor="end" fill="#222" stroke="#222" stroke-width="0.25">PAM3</text>
<text transform="translate(341.35,225.90) rotate(-45)" font-size="8" text-anchor="end" fill="#222" stroke="#222" stroke-width="0.25">M-CSF</text>
<text transform="translate(372.35,225.90) rotate(-45)" font-size="8" text-anchor="end" fill="#222" stroke="#222" stroke-width="0.25">No Rx</text>
<text transform="translate(387.85,225.90) rotate(-45)" font-size="8" text-anchor="end" fill="#222" stroke="#222" stroke-width="0.25">PAM3</text>
<text transform="translate(403.35,225.90) rotate(-45)" font-size="8" text-anchor="end" fill="#222" stroke="#222" stroke-width="0.25">M-CSF</text>
<text transform="translate(434.35,225.90) rotate(-45)" font-size="8" text-anchor="end" fill="#222" stroke="#222" stroke-width="0.25">No Rx</text>
<text transform="translate(449.85,225.90) rotate(-45)" font-size="8" text-anchor="end" fill="#222" stroke="#222" stroke-width="0.25">PAM3</text>
<text transform="translate(465.35,225.90) rotate(-45)" font-size="8" text-anchor="end" fill="#222" stroke="#222" stroke-width="0.25">M-CSF</text>
<text transform="translate(208.8,126.5) rotate(-90)" font-size="8.6" text-anchor="middle" fill="#222" stroke="#222" stroke-width="0.2" textLength="96" lengthAdjust="spacingAndGlyphs">% cells expressing each marker</text>
<path d="M235.4,276.20V374.6H512.8" stroke="#111" stroke-width="1.6" fill="none"/>
<text x="229.8" y="377.5" font-size="8.2" text-anchor="end" fill="#333" font-weight="normal" >0</text>
<text x="229.8" y="353.5" font-size="8.2" text-anchor="end" fill="#333" font-weight="normal" >10</text>
<text x="229.8" y="329.5" font-size="8.2" text-anchor="end" fill="#333" font-weight="normal" >20</text>
<text x="229.8" y="305.5" font-size="8.2" text-anchor="end" fill="#333" font-weight="normal" >30</text>
<text x="229.8" y="281.5" font-size="8.2" text-anchor="end" fill="#333" font-weight="normal" >40</text>
<path d="M231.90,374.60H235.4M231.90,350.60H235.4M231.90,326.60H235.4M231.90,302.60H235.4M231.90,278.60H235.4M250.80,374.6V378.10M285.80,374.6V378.10M320.80,374.6V378.10M355.80,374.6V378.10M390.80,374.6V378.10M425.80,374.6V378.10M460.80,374.6V378.10M495.80,374.6V378.10" stroke="#111" stroke-width="1" fill="none"/>
<rect x="240.30" y="364.70" width="8.7" height="9.90" fill="#2f4a86"/>
<path d="M244.60,364.70V361.40M242.20,361.40H247.00" stroke="#1e1e1e" stroke-width="1.4" fill="none"/>
<path d="M242.80,354.95L242.80,357.85M241.54,355.67L244.06,357.12M244.06,355.67L241.54,357.12M242.80,356.40m-0.6,0a0.6,0.6 0 1,0 1.2,0a0.6,0.6 0 1,0 -1.2,0M246.40,354.95L246.40,357.85M245.14,355.67L247.66,357.12M247.66,355.67L245.14,357.12M246.40,356.40m-0.6,0a0.6,0.6 0 1,0 1.2,0a0.6,0.6 0 1,0 -1.2,0" stroke="#1a1a1a" stroke-width="0.8" fill="#1a1a1a"/>
<rect x="253.40" y="362.50" width="8.7" height="12.10" fill="#b20c34"/>
<path d="M257.70,362.50V357.90M255.30,357.90H260.10" stroke="#1e1e1e" stroke-width="1.4" fill="none"/>
<path d="M254.10,351.45L254.10,354.35M252.84,352.17L255.36,353.62M255.36,352.17L252.84,353.62M254.10,352.90m-0.6,0a0.6,0.6 0 1,0 1.2,0a0.6,0.6 0 1,0 -1.2,0M257.70,351.45L257.70,354.35M256.44,352.17L258.96,353.62M258.96,352.17L256.44,353.62M257.70,352.90m-0.6,0a0.6,0.6 0 1,0 1.2,0a0.6,0.6 0 1,0 -1.2,0M261.30,351.45L261.30,354.35M260.04,352.17L262.56,353.62M262.56,352.17L260.04,353.62M261.30,352.90m-0.6,0a0.6,0.6 0 1,0 1.2,0a0.6,0.6 0 1,0 -1.2,0" stroke="#1a1a1a" stroke-width="0.8" fill="#1a1a1a"/>
<text transform="translate(255.00,385.50) rotate(-45)" font-size="8.2" text-anchor="end" fill="#222" stroke="#222" stroke-width="0.25">CD11b</text>
<rect x="275.30" y="340.00" width="8.7" height="34.60" fill="#2f4a86"/>
<path d="M279.60,340.00V330.50M277.20,330.50H282.00" stroke="#1e1e1e" stroke-width="1.4" fill="none"/>
<path d="M276.00,324.05L276.00,326.95M274.74,324.77L277.26,326.23M277.26,324.77L274.74,326.23M276.00,325.50m-0.6,0a0.6,0.6 0 1,0 1.2,0a0.6,0.6 0 1,0 -1.2,0M279.60,324.05L279.60,326.95M278.34,324.77L280.86,326.23M280.86,324.77L278.34,326.23M279.60,325.50m-0.6,0a0.6,0.6 0 1,0 1.2,0a0.6,0.6 0 1,0 -1.2,0M283.20,324.05L283.20,326.95M281.94,324.77L284.46,326.23M284.46,324.77L281.94,326.23M283.20,325.50m-0.6,0a0.6,0.6 0 1,0 1.2,0a0.6,0.6 0 1,0 -1.2,0" stroke="#1a1a1a" stroke-width="0.8" fill="#1a1a1a"/>
<rect x="288.40" y="343.25" width="8.7" height="31.35" fill="#b20c34"/>
<path d="M292.70,343.25V333.25M290.30,333.25H295.10" stroke="#1e1e1e" stroke-width="1.4" fill="none"/>
<path d="M289.10,326.80L289.10,329.70M287.84,327.52L290.36,328.98M290.36,327.52L287.84,328.98M289.10,328.25m-0.6,0a0.6,0.6 0 1,0 1.2,0a0.6,0.6 0 1,0 -1.2,0M292.70,326.80L292.70,329.70M291.44,327.52L293.96,328.98M293.96,327.52L291.44,328.98M292.70,328.25m-0.6,0a0.6,0.6 0 1,0 1.2,0a0.6,0.6 0 1,0 -1.2,0M296.30,326.80L296.30,329.70M295.04,327.52L297.56,328.98M297.56,327.52L295.04,328.98M296.30,328.25m-0.6,0a0.6,0.6 0 1,0 1.2,0a0.6,0.6 0 1,0 -1.2,0" stroke="#1a1a1a" stroke-width="0.8" fill="#1a1a1a"/>
<text transform="translate(290.00,385.50) rotate(-45)" font-size="8.2" text-anchor="end" fill="#222" stroke="#222" stroke-width="0.25">CD14</text>
<rect x="310.30" y="319.80" width="8.7" height="54.80" fill="#2f4a86"/>
<path d="M314.60,319.80V311.40M312.20,311.40H317.00" stroke="#1e1e1e" stroke-width="1.4" fill="none"/>
<path d="M311.00,304.95L311.00,307.85M309.74,305.67L312.26,307.12M312.26,305.67L309.74,307.12M311.00,306.40m-0.6,0a0.6,0.6 0 1,0 1.2,0a0.6,0.6 0 1,0 -1.2,0M314.60,304.95L314.60,307.85M313.34,305.67L315.86,307.12M315.86,305.67L313.34,307.12M314.60,306.40m-0.6,0a0.6,0.6 0 1,0 1.2,0a0.6,0.6 0 1,0 -1.2,0M318.20,304.95L318.20,307.85M316.94,305.67L319.46,307.12M319.46,305.67L316.94,307.12M318.20,306.40m-0.6,0a0.6,0.6 0 1,0 1.2,0a0.6,0.6 0 1,0 -1.2,0" stroke="#1a1a1a" stroke-width="0.8" fill="#1a1a1a"/>
<rect x="323.40" y="332.00" width="8.7" height="42.60" fill="#b20c34"/>
<path d="M327.70,332.00V325.00M325.30,325.00H330.10" stroke="#1e1e1e" stroke-width="1.4" fill="none"/>
<path d="M325.90,318.55L325.90,321.45M324.64,319.27L327.16,320.73M327.16,319.27L324.64,320.73M325.90,320.00m-0.6,0a0.6,0.6 0 1,0 1.2,0a0.6,0.6 0 1,0 -1.2,0M329.50,318.55L329.50,321.45M328.24,319.27L330.76,320.73M330.76,319.27L328.24,320.73M329.50,320.00m-0.6,0a0.6,0.6 0 1,0 1.2,0a0.6,0.6 0 1,0 -1.2,0" stroke="#1a1a1a" stroke-width="0.8" fill="#1a1a1a"/>
<text transform="translate(325.00,385.50) rotate(-45)" font-size="8.2" text-anchor="end" fill="#222" stroke="#222" stroke-width="0.25">CD68</text>
<rect x="345.30" y="346.20" width="8.7" height="28.40" fill="#2f4a86"/>
<path d="M349.60,346.20V341.30M347.20,341.30H352.00" stroke="#1e1e1e" stroke-width="1.4" fill="none"/>
<path d="M346.00,334.85L346.00,337.75M344.74,335.57L347.26,337.03M347.26,335.57L344.74,337.03M346.00,336.30m-0.6,0a0.6,0.6 0 1,0 1.2,0a0.6,0.6 0 1,0 -1.2,0M349.60,334.85L349.60,337.75M348.34,335.57L350.86,337.03M350.86,335.57L348.34,337.03M349.60,336.30m-0.6,0a0.6,0.6 0 1,0 1.2,0a0.6,0.6 0 1,0 -1.2,0M353.20,334.85L353.20,337.75M351.94,335.57L354.46,337.03M354.46,335.57L351.94,337.03M353.20,336.30m-0.6,0a0.6,0.6 0 1,0 1.2,0a0.6,0.6 0 1,0 -1.2,0" stroke="#1a1a1a" stroke-width="0.8" fill="#1a1a1a"/>
<rect x="358.40" y="343.00" width="8.7" height="31.60" fill="#b20c34"/>
<path d="M362.70,343.00V336.10M360.30,336.10H365.10" stroke="#1e1e1e" stroke-width="1.4" fill="none"/>
<path d="M359.10,329.65L359.10,332.55M357.84,330.38L360.36,331.83M360.36,330.38L357.84,331.83M359.10,331.10m-0.6,0a0.6,0.6 0 1,0 1.2,0a0.6,0.6 0 1,0 -1.2,0M362.70,329.65L362.70,332.55M361.44,330.38L363.96,331.83M363.96,330.38L361.44,331.83M362.70,331.10m-0.6,0a0.6,0.6 0 1,0 1.2,0a0.6,0.6 0 1,0 -1.2,0M366.30,329.65L366.30,332.55M365.04,330.38L367.56,331.83M367.56,330.38L365.04,331.83M366.30,331.10m-0.6,0a0.6,0.6 0 1,0 1.2,0a0.6,0.6 0 1,0 -1.2,0" stroke="#1a1a1a" stroke-width="0.8" fill="#1a1a1a"/>
<text transform="translate(360.00,385.50) rotate(-45)" font-size="8.2" text-anchor="end" fill="#222" stroke="#222" stroke-width="0.25">CD40</text>
<rect x="380.30" y="368.00" width="8.7" height="6.60" fill="#2f4a86"/>
<path d="M384.60,368.00V364.50M382.20,364.50H387.00" stroke="#1e1e1e" stroke-width="1.4" fill="none"/>
<path d="M381.00,358.05L381.00,360.95M379.74,358.77L382.26,360.23M382.26,358.77L379.74,360.23M381.00,359.50m-0.6,0a0.6,0.6 0 1,0 1.2,0a0.6,0.6 0 1,0 -1.2,0M384.60,358.05L384.60,360.95M383.34,358.77L385.86,360.23M385.86,358.77L383.34,360.23M384.60,359.50m-0.6,0a0.6,0.6 0 1,0 1.2,0a0.6,0.6 0 1,0 -1.2,0M388.20,358.05L388.20,360.95M386.94,358.77L389.46,360.23M389.46,358.77L386.94,360.23M388.20,359.50m-0.6,0a0.6,0.6 0 1,0 1.2,0a0.6,0.6 0 1,0 -1.2,0" stroke="#1a1a1a" stroke-width="0.8" fill="#1a1a1a"/>
<rect x="393.40" y="361.30" width="8.7" height="13.30" fill="#b20c34"/>
<path d="M397.70,361.30V356.40M395.30,356.40H400.10" stroke="#1e1e1e" stroke-width="1.4" fill="none"/>
<path d="M394.10,349.95L394.10,352.85M392.84,350.67L395.36,352.12M395.36,350.67L392.84,352.12M394.10,351.40m-0.6,0a0.6,0.6 0 1,0 1.2,0a0.6,0.6 0 1,0 -1.2,0M397.70,349.95L397.70,352.85M396.44,350.67L398.96,352.12M398.96,350.67L396.44,352.12M397.70,351.40m-0.6,0a0.6,0.6 0 1,0 1.2,0a0.6,0.6 0 1,0 -1.2,0M401.30,349.95L401.30,352.85M400.04,350.67L402.56,352.12M402.56,350.67L400.04,352.12M401.30,351.40m-0.6,0a0.6,0.6 0 1,0 1.2,0a0.6,0.6 0 1,0 -1.2,0" stroke="#1a1a1a" stroke-width="0.8" fill="#1a1a1a"/>
<text transform="translate(395.00,385.50) rotate(-45)" font-size="8.2" text-anchor="end" fill="#222" stroke="#222" stroke-width="0.25">CD16</text>
<rect x="415.30" y="341.90" width="8.7" height="32.70" fill="#2f4a86"/>
<path d="M419.60,341.90V331.50M417.20,331.50H422.00" stroke="#1e1e1e" stroke-width="1.4" fill="none"/>
<path d="M416.00,325.05L416.00,327.95M414.74,325.77L417.26,327.23M417.26,325.77L414.74,327.23M416.00,326.50m-0.6,0a0.6,0.6 0 1,0 1.2,0a0.6,0.6 0 1,0 -1.2,0M419.60,325.05L419.60,327.95M418.34,325.77L420.86,327.23M420.86,325.77L418.34,327.23M419.60,326.50m-0.6,0a0.6,0.6 0 1,0 1.2,0a0.6,0.6 0 1,0 -1.2,0M423.20,325.05L423.20,327.95M421.94,325.77L424.46,327.23M424.46,325.77L421.94,327.23M423.20,326.50m-0.6,0a0.6,0.6 0 1,0 1.2,0a0.6,0.6 0 1,0 -1.2,0" stroke="#1a1a1a" stroke-width="0.8" fill="#1a1a1a"/>
<rect x="428.40" y="310.40" width="8.7" height="64.20" fill="#b20c34"/>
<path d="M432.70,310.40V295.40M430.30,295.40H435.10" stroke="#1e1e1e" stroke-width="1.4" fill="none"/>
<path d="M429.10,288.95L429.10,291.85M427.84,289.67L430.36,291.12M430.36,289.67L427.84,291.12M429.10,290.40m-0.6,0a0.6,0.6 0 1,0 1.2,0a0.6,0.6 0 1,0 -1.2,0M432.70,288.95L432.70,291.85M431.44,289.67L433.96,291.12M433.96,289.67L431.44,291.12M432.70,290.40m-0.6,0a0.6,0.6 0 1,0 1.2,0a0.6,0.6 0 1,0 -1.2,0M436.30,288.95L436.30,291.85M435.04,289.67L437.56,291.12M437.56,289.67L435.04,291.12M436.30,290.40m-0.6,0a0.6,0.6 0 1,0 1.2,0a0.6,0.6 0 1,0 -1.2,0" stroke="#1a1a1a" stroke-width="0.8" fill="#1a1a1a"/>
<text transform="translate(430.00,385.50) rotate(-45)" font-size="8.2" text-anchor="end" fill="#222" stroke="#222" stroke-width="0.25">CD273</text>
<rect x="450.30" y="360.00" width="8.7" height="14.60" fill="#2f4a86"/>
<path d="M454.60,360.00V354.40M452.20,354.40H457.00" stroke="#1e1e1e" stroke-width="1.4" fill="none"/>
<path d="M451.00,347.95L451.00,350.85M449.74,348.67L452.26,350.12M452.26,348.67L449.74,350.12M451.00,349.40m-0.6,0a0.6,0.6 0 1,0 1.2,0a0.6,0.6 0 1,0 -1.2,0M454.60,347.95L454.60,350.85M453.34,348.67L455.86,350.12M455.86,348.67L453.34,350.12M454.60,349.40m-0.6,0a0.6,0.6 0 1,0 1.2,0a0.6,0.6 0 1,0 -1.2,0M458.20,347.95L458.20,350.85M456.94,348.67L459.46,350.12M459.46,348.67L456.94,350.12M458.20,349.40m-0.6,0a0.6,0.6 0 1,0 1.2,0a0.6,0.6 0 1,0 -1.2,0" stroke="#1a1a1a" stroke-width="0.8" fill="#1a1a1a"/>
<rect x="463.40" y="340.00" width="8.7" height="34.60" fill="#b20c34"/>
<path d="M467.70,340.00V335.30M465.30,335.30H470.10" stroke="#1e1e1e" stroke-width="1.4" fill="none"/>
<path d="M464.10,328.85L464.10,331.75M462.84,329.57L465.36,331.03M465.36,329.57L462.84,331.03M464.10,330.30m-0.6,0a0.6,0.6 0 1,0 1.2,0a0.6,0.6 0 1,0 -1.2,0M467.70,328.85L467.70,331.75M466.44,329.57L468.96,331.03M468.96,329.57L466.44,331.03M467.70,330.30m-0.6,0a0.6,0.6 0 1,0 1.2,0a0.6,0.6 0 1,0 -1.2,0M471.30,328.85L471.30,331.75M470.04,329.57L472.56,331.03M472.56,329.57L470.04,331.03M471.30,330.30m-0.6,0a0.6,0.6 0 1,0 1.2,0a0.6,0.6 0 1,0 -1.2,0" stroke="#1a1a1a" stroke-width="0.8" fill="#1a1a1a"/>
<text transform="translate(465.00,385.50) rotate(-45)" font-size="8.2" text-anchor="end" fill="#222" stroke="#222" stroke-width="0.25">CD204</text>
<rect x="485.30" y="349.50" width="8.7" height="25.10" fill="#2f4a86"/>
<path d="M489.60,349.50V340.30M487.20,340.30H492.00" stroke="#1e1e1e" stroke-width="1.4" fill="none"/>
<path d="M486.00,333.85L486.00,336.75M484.74,334.57L487.26,336.03M487.26,334.57L484.74,336.03M486.00,335.30m-0.6,0a0.6,0.6 0 1,0 1.2,0a0.6,0.6 0 1,0 -1.2,0M489.60,333.85L489.60,336.75M488.34,334.57L490.86,336.03M490.86,334.57L488.34,336.03M489.60,335.30m-0.6,0a0.6,0.6 0 1,0 1.2,0a0.6,0.6 0 1,0 -1.2,0M493.20,333.85L493.20,336.75M491.94,334.57L494.46,336.03M494.46,334.57L491.94,336.03M493.20,335.30m-0.6,0a0.6,0.6 0 1,0 1.2,0a0.6,0.6 0 1,0 -1.2,0" stroke="#1a1a1a" stroke-width="0.8" fill="#1a1a1a"/>
<rect x="498.40" y="300.70" width="8.7" height="73.90" fill="#b20c34"/>
<path d="M502.70,300.70V289.60M500.30,289.60H505.10" stroke="#1e1e1e" stroke-width="1.4" fill="none"/>
<path d="M499.10,283.15L499.10,286.05M497.84,283.88L500.36,285.33M500.36,283.88L497.84,285.33M499.10,284.60m-0.6,0a0.6,0.6 0 1,0 1.2,0a0.6,0.6 0 1,0 -1.2,0M502.70,283.15L502.70,286.05M501.44,283.88L503.96,285.33M503.96,283.88L501.44,285.33M502.70,284.60m-0.6,0a0.6,0.6 0 1,0 1.2,0a0.6,0.6 0 1,0 -1.2,0M506.30,283.15L506.30,286.05M505.04,283.88L507.56,285.33M507.56,283.88L505.04,285.33M506.30,284.60m-0.6,0a0.6,0.6 0 1,0 1.2,0a0.6,0.6 0 1,0 -1.2,0" stroke="#1a1a1a" stroke-width="0.8" fill="#1a1a1a"/>
<text transform="translate(500.00,385.50) rotate(-45)" font-size="8.2" text-anchor="end" fill="#222" stroke="#222" stroke-width="0.25">CD209</text>
<path d="M416.60,287.30V286.50Q416.60,284.30 418.80,284.30H422.70Q424.20,284.30 424.20,282.30Q424.20,284.30 425.70,284.30H429.60Q431.80,284.30 431.80,286.50V287.30" stroke="#222" stroke-width="1.3" fill="none"/>
<text x="424.20000000000005" y="278.4" font-size="9.5" text-anchor="middle" fill="#111" font-weight="normal" textLength="15.5" lengthAdjust="spacingAndGlyphs" stroke="#111" stroke-width="0.3">+++</text>
<path d="M452.00,324.70V323.90Q452.00,321.70 454.20,321.70H458.20Q459.70,321.70 459.70,319.70Q459.70,321.70 461.20,321.70H465.20Q467.40,321.70 467.40,323.90V324.70" stroke="#222" stroke-width="1.3" fill="none"/>
<text x="459.7" y="315.2" font-size="9.5" text-anchor="middle" fill="#111" font-weight="normal" textLength="15.5" lengthAdjust="spacingAndGlyphs" stroke="#111" stroke-width="0.3">+++</text>
<path d="M487.70,281.50V280.70Q487.70,278.50 489.90,278.50H493.70Q495.20,278.50 495.20,276.50Q495.20,278.50 496.70,278.50H500.50Q502.70,278.50 502.70,280.70V281.50" stroke="#222" stroke-width="1.3" fill="none"/>
<text x="495.2" y="272.59999999999997" font-size="9.5" text-anchor="middle" fill="#111" font-weight="normal" textLength="15.5" lengthAdjust="spacingAndGlyphs" stroke="#111" stroke-width="0.3">+++</text>
<text transform="translate(213.9,325.2) rotate(-90)" font-size="9.4" text-anchor="middle" fill="#222" stroke="#222" stroke-width="0.2" textLength="57" lengthAdjust="spacingAndGlyphs">Fold change in MFI</text>
<path d="M0,0H520V412H0Z M1.6,1.2H518.5V409.9H1.6Z" fill="#000" fill-rule="evenodd"/>
</svg>
</body></html>
